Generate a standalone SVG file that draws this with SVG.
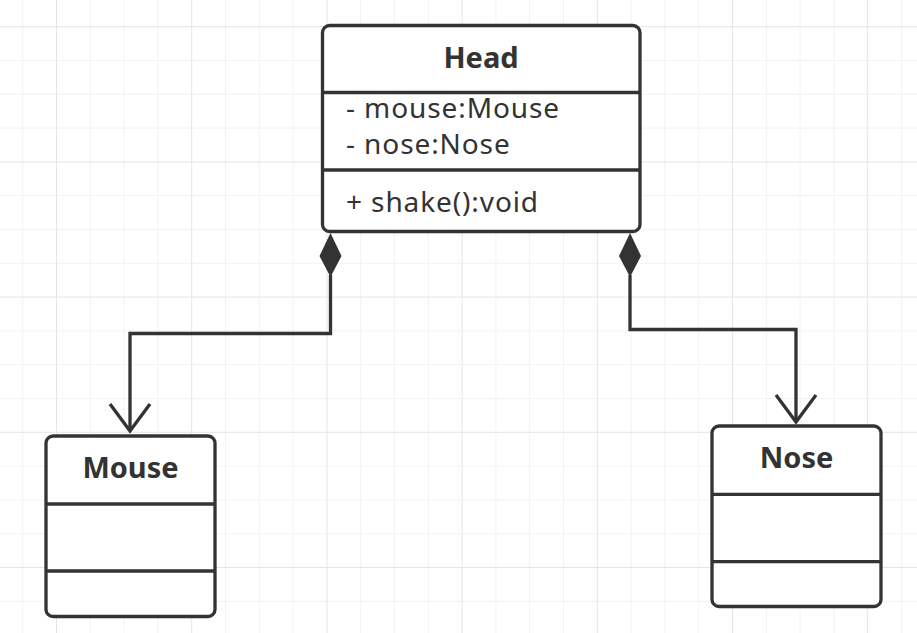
<svg xmlns="http://www.w3.org/2000/svg" width="917" height="633" viewBox="0 0 917 633">
<style>
.minor{stroke:#f2f2f2;stroke-width:1;fill:none}
.major{stroke:#e5e5e5;stroke-width:1;fill:none}
.box{fill:#ffffff;stroke:#333333;stroke-width:3.3}
.sep{stroke:#333333;stroke-width:3.3}
.conn{fill:none;stroke:#333333;stroke-width:3.3;stroke-linejoin:miter}
.title{font-family:"Noto Sans","Open Sans",sans-serif;font-weight:bold;font-size:29px;fill:#333333;text-anchor:middle}
.attr{font-family:"Noto Sans","Open Sans",sans-serif;font-size:28px;letter-spacing:0.9px;fill:#333333}
</style>
<rect width="917" height="633" fill="#ffffff"/>
<g id="grid">
<path class="minor" d="M22.7 0V633M90.3 0V633M124.1 0V633M157.9 0V633M225.5 0V633M259.3 0V633M293.1 0V633M360.7 0V633M394.5 0V633M428.3 0V633M495.9 0V633M529.7 0V633M563.5 0V633M631.1 0V633M664.9 0V633M698.7 0V633M766.3 0V633M800.1 0V633M833.9 0V633M901.5 0V633M0 60.5H917M0 94.3H917M0 128.1H917M0 195.7H917M0 229.5H917M0 263.3H917M0 330.9H917M0 364.7H917M0 398.5H917M0 466.1H917M0 499.9H917M0 533.7H917M0 601.3H917"/>
<path class="major" d="M56.5 0V633M191.7 0V633M326.9 0V633M462.1 0V633M597.3 0V633M732.5 0V633M867.7 0V633M0 26.7H917M0 161.9H917M0 297.1H917M0 432.3H917M0 567.5H917"/>
</g>
<g id="connectors">
<path class="conn" d="M330.5 275V333.5H130V431"/>
<path class="conn" d="M110 404L130 431L150 404"/>
<path d="M330.5 233L341.5 256L330.5 277L319.5 256Z" fill="#333333"/>
<path class="conn" d="M630 275V329.5H796V422"/>
<path class="conn" d="M776 395L796 422L816 395"/>
<path d="M630 233L641 256L630 277L619 256Z" fill="#333333"/>
</g>
<g id="head">
<rect class="box" x="322.5" y="25.5" width="317.5" height="206" rx="7"/>
<line class="sep" x1="322.5" y1="92.5" x2="640" y2="92.5"/>
<line class="sep" x1="322.5" y1="170" x2="640" y2="170"/>
<text class="title" x="481" y="68">Head</text>
<text class="attr" x="346" y="118">- mouse:Mouse</text>
<text class="attr" x="346" y="154">- nose:Nose</text>
<text class="attr" x="346" y="211.5">+ shake():void</text>
</g>
<g id="mouse">
<rect class="box" x="46" y="436" width="169" height="180.5" rx="7"/>
<line class="sep" x1="46" y1="504" x2="215" y2="504"/>
<line class="sep" x1="46" y1="571" x2="215" y2="571"/>
<text class="title" x="130.5" y="478">Mouse</text>
</g>
<g id="nose">
<rect class="box" x="712" y="426" width="169" height="180.5" rx="7"/>
<line class="sep" x1="712" y1="494.3" x2="881" y2="494.3"/>
<line class="sep" x1="712" y1="561.7" x2="881" y2="561.7"/>
<text class="title" x="796.5" y="468">Nose</text>
</g>
</svg>
